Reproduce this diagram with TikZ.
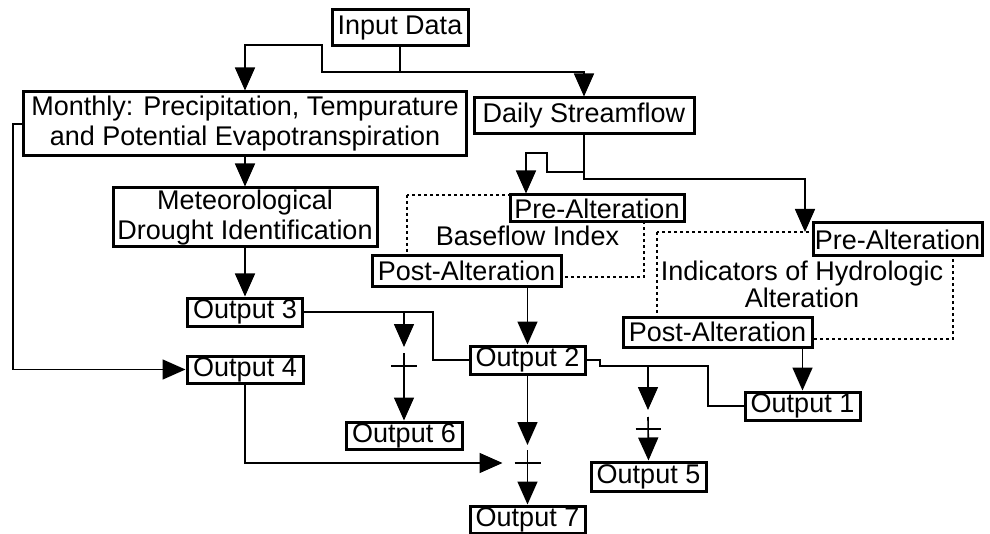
\documentclass[tikz,border=0pt]{standalone}
\usepackage{fontspec}
\setmainfont{Liberation Sans}
\usetikzlibrary{arrows.meta,calc}
\begin{document}
\begin{tikzpicture}[x=0.5pt,y=-0.5pt,
  box/.style={draw, line width=1.5pt, fill=white, inner sep=0pt, align=center,
    font=\fontsize{13.5}{15}\selectfont},
  lbl/.style={inner sep=0pt, align=center, font=\fontsize{13.5}{13.5}\selectfont},
  conn/.style={line width=0.8pt},
  arr/.style={conn, -{Triangle[length=11.5pt,width=10pt]}},
  dotfrm/.style={line width=1.3pt, dash pattern=on 1.3pt off 1.7pt}
]
\useasboundingbox (0,0) rectangle (990,534);
% dotted group frames
\draw[dotfrm] (407,195) rectangle (644,277);
\draw[dotfrm] (657,232) rectangle (953,339);
% boxes
\node[box, minimum width=68pt, minimum height=18pt] (in) at (400,28) {Input Data};
\node[box, minimum width=221.5pt, minimum height=32pt] (mon) at (245,124)
  {Monthly: Precipitation, Tempurature\\and Potential Evapotranspiration};
\node[box, minimum width=110pt, minimum height=18pt] (daily) at (584,116) {Daily Streamflow};
\node[box, minimum width=132pt, minimum height=29.5pt] (met) at (245,217.5)
  {Meteorological\\Drought Identification};
\node[box, minimum width=57.5pt, minimum height=14pt] (o3) at (245,312) {Output 3};
\node[box, minimum width=87pt, minimum height=13.5pt] (prebf) at (597,208.5) {Pre-Alteration};
\node[box, minimum width=94.5pt, minimum height=15pt] (postbf) at (466.5,271) {Post-Alteration};
\node[box, minimum width=84.5pt, minimum height=16.5pt] (preiha) at (897.5,239.5) {Pre-Alteration};
\node[box, minimum width=94.5pt, minimum height=15pt] (postiha) at (717.5,332) {Post-Alteration};
\node[box, minimum width=57.5pt, minimum height=14pt] (o2) at (527.5,360) {Output 2};
\node[box, minimum width=58pt, minimum height=13.5pt] (o4) at (245,369.5) {Output 4};
\node[box, minimum width=57.5pt, minimum height=14pt] (o1) at (802.5,406) {Output 1};
\node[box, minimum width=58pt, minimum height=13.5pt] (o6) at (404,435.5) {Output 6};
\node[box, minimum width=57.5pt, minimum height=14.5pt] (o5) at (648.5,476.5) {Output 5};
\node[box, minimum width=57.5pt, minimum height=13.5pt] (o7) at (527.5,519.5) {Output 7};
% group labels
\node[lbl, anchor=base] (bfi) at (527.5,246) {Baseflow Index};
\node[lbl] (iha) at (802,284) {Indicators of Hydrologic\\Alteration};
% junction coordinates
\coordinate (p6) at (404,366);
\coordinate (p7) at (527.5,463);
\coordinate (p5) at (648,429);
\coordinate (j5) at (648,366);
\coordinate (k1) at (526,153);
% connectors
\draw[arr] (in.south) -- (400,72) -| (322,45) -| (mon.north);
\draw[arr] (in.south) -- (400,72) -| (daily.north);
\draw[arr] (mon.south) -- (met.north);
\draw[arr] (met.south) -- (o3.north);
\draw[arr] (mon.west) -- (13,124) |- (o4.west);
\draw[conn] (o3.east) -| (433,360) -- (o2.west);
\draw[arr] (o3.east -| p6) -- ($(p6)+(0,-19)$);
\draw[conn] ($(p6)+(-13,0)$) -- ($(p6)+(13,0)$);
\draw[arr] ($(p6)+(0,-13)$) -- (o6.north);
\draw[arr] (postbf.south -| o2) -- (o2.north);
\draw[arr] (o2.south) -- ($(p7)+(0,-18)$);
\draw[conn] ($(p7)+(-13,0)$) -- ($(p7)+(13,0)$);
\draw[arr] ($(p7)+(0,-13)$) -- (o7.north);
\draw[arr] (o4.south) |- ($(p7)+(-25,0)$);
\draw[conn] (o2.east) -- (600,360) -- (600,366) -| (708,406) -- (o1.west);
\draw[arr] (j5) -- ($(p5)+(0,-19)$);
\draw[conn] ($(p5)+(-12.5,0)$) -- ($(p5)+(12.5,0)$);
\draw[arr] ($(p5)+(0,-12)$) -- (o5.north);
\draw[arr] (daily.south) |- (547,172) |- (k1) -- (k1 |- prebf.north);
\draw[arr] (daily.south) |- (805,179) -- (805,232);
\draw[arr] (postiha.south -| o1) -- (o1.north);
\end{tikzpicture}
\end{document}
